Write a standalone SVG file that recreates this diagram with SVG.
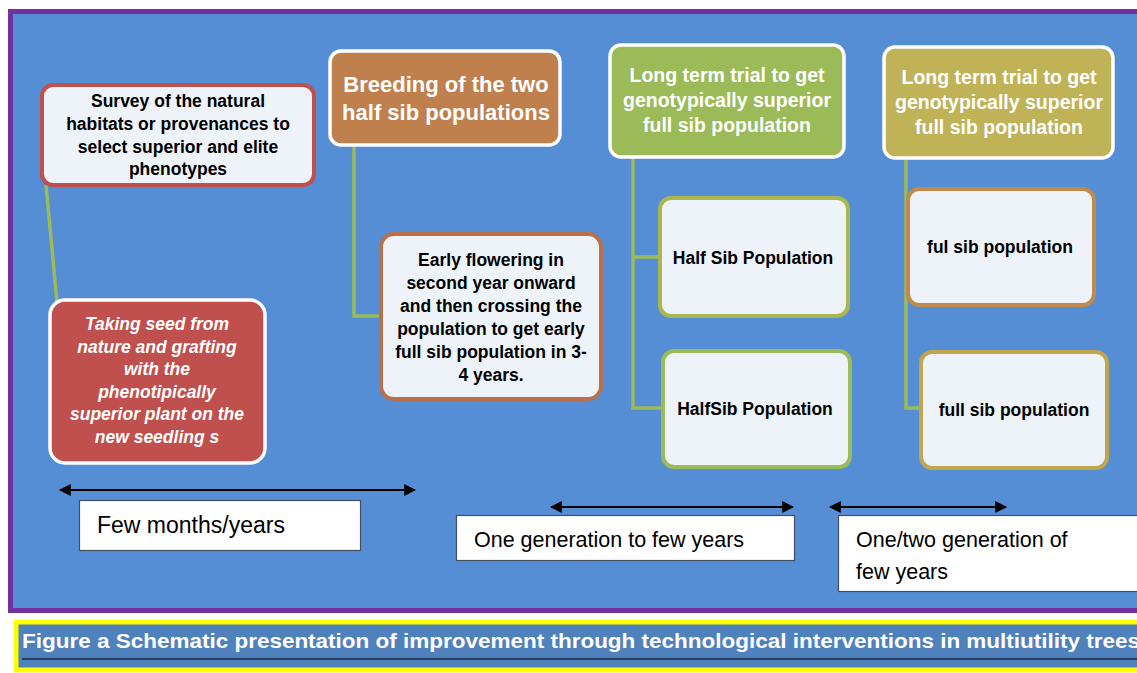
<svg xmlns="http://www.w3.org/2000/svg" width="1137" height="673" viewBox="0 0 1137 673">
<defs>
<marker id="ah" viewBox="0 0 10 10" refX="9" refY="5" markerWidth="6" markerHeight="6" orient="auto-start-reverse" markerUnits="strokeWidth">
<path d="M0,0 L10,5 L0,10 z" fill="#000"/>
</marker>
<style>
.t{font-family:"Liberation Sans",Arial,sans-serif;}
.b{font-weight:bold;}
.dk{fill:#000;}
.wh{fill:#fff;}
.mid{text-anchor:middle;}
.lite{fill:#EEF3FA;stroke-width:4;}
.head{stroke:#fff;stroke-width:3.5;}
.conn{fill:none;stroke:#9BBB59;stroke-width:3.5;}
.arr{stroke:#000;stroke-width:2;marker-start:url(#ah);marker-end:url(#ah);}
.lbl{fill:#fff;stroke:#3F4F5F;stroke-width:1.2;}
</style>
</defs>
<rect width="1137" height="673" fill="#fff"/>
<rect x="10.5" y="11.5" width="1140" height="599" fill="#558ED5" stroke="#7030A0" stroke-width="5"/>

<g id="connectors">
<line class="conn" x1="46" y1="185" x2="72" y2="463"/>
<polyline class="conn" points="354,145 354,316 382,316"/>
<polyline class="conn" points="633,157 633,408 662,408"/>
<line class="conn" x1="633" y1="257" x2="660" y2="257"/>
<polyline class="conn" points="906,158 906,408 921,408"/>
</g>

<g id="survey">
<rect class="lite" x="42" y="85" width="272" height="100" rx="11" stroke="#C0504D"/>
<text class="t b dk mid" font-size="17.5"><tspan x="178" y="107">Survey of the natural</tspan><tspan x="178" y="130">habitats or provenances to</tspan><tspan x="178" y="153">select superior and elite</tspan><tspan x="178" y="175">phenotypes</tspan></text>
</g>

<g id="taking-seed">
<rect class="head" x="50" y="300" width="215" height="163" rx="15" fill="#C0504D"/>
<text class="t b wh mid" font-size="17.5" font-style="italic"><tspan x="157" y="330">Taking seed from</tspan><tspan x="157" y="353">nature and grafting</tspan><tspan x="157" y="375">with  the</tspan><tspan x="157" y="398">phenotipically</tspan><tspan x="157" y="420">superior plant on the</tspan><tspan x="157" y="443">new seedling s</tspan></text>
</g>

<g id="breeding">
<rect class="head" x="330" y="51" width="230" height="94" rx="11" fill="#C0804E"/>
<text class="t b wh mid" font-size="22"><tspan x="446" y="92">Breeding of the two</tspan><tspan x="446" y="120">half sib populations</tspan></text>
</g>

<g id="early-flowering">
<rect class="lite" x="381" y="234" width="220" height="165" rx="13" stroke="#B9714D"/>
<text class="t b dk mid" font-size="17.5"><tspan x="491" y="266">Early flowering in</tspan><tspan x="491" y="289">second year onward</tspan><tspan x="491" y="312">and then crossing the</tspan><tspan x="491" y="335">population to get early</tspan><tspan x="491" y="358">full sib population in 3-</tspan><tspan x="491" y="381">4 years.</tspan></text>
</g>

<g id="trial-green">
<rect class="head" x="610" y="45" width="234" height="112" rx="11" fill="#9BBB59"/>
<text class="t b wh mid" font-size="19.5"><tspan x="727" y="82">Long term trial to get</tspan><tspan x="727" y="107">genotypically superior</tspan><tspan x="727" y="132">full sib population</tspan></text>
</g>

<g id="half-sib-1">
<rect class="lite" x="660" y="198" width="188" height="118" rx="11" stroke="#A9B84E"/>
<text class="t b dk mid" font-size="17.5" x="753" y="264">Half Sib Population</text>
</g>

<g id="half-sib-2">
<rect class="lite" x="663" y="351" width="187" height="116" rx="11" stroke="#9BBB59"/>
<text class="t b dk mid" font-size="17.5" x="755" y="415">HalfSib Population</text>
</g>

<g id="trial-olive">
<rect class="head" x="884" y="47" width="229" height="111" rx="11" fill="#C0B257"/>
<text class="t b wh mid" font-size="19.5"><tspan x="999" y="84">Long term trial to get</tspan><tspan x="999" y="109">genotypically superior</tspan><tspan x="999" y="134">full sib population</tspan></text>
</g>

<g id="ful-sib-1">
<rect class="lite" x="908" y="189" width="186" height="116" rx="11" stroke="#C08A4F"/>
<text class="t b dk mid" font-size="17.5" x="1000" y="253">ful sib population</text>
</g>

<g id="full-sib-2">
<rect class="lite" x="921" y="352" width="186" height="116" rx="11" stroke="#C0A64F"/>
<text class="t b dk mid" font-size="17.5" x="1014" y="416">full sib population</text>
</g>

<g id="timeline-arrows">
<line class="arr" x1="60" y1="490" x2="415" y2="490"/>
<line class="arr" x1="551" y1="507" x2="793" y2="507"/>
<line class="arr" x1="830" y1="507" x2="1006" y2="507"/>
</g>

<g id="time-few-months">
<rect class="lbl" x="79.5" y="500.5" width="281" height="50"/>
<text class="t dk" font-size="23" x="97" y="533">Few months/years</text>
</g>
<g id="time-one-generation">
<rect class="lbl" x="456.5" y="515.5" width="338" height="45"/>
<text class="t dk" font-size="21.5" x="474" y="547">One generation to few years</text>
</g>
<g id="time-one-two">
<rect class="lbl" x="838.5" y="515.5" width="310" height="76"/>
<text class="t dk" font-size="21.5"><tspan x="856" y="547">One/two generation of</tspan><tspan x="856" y="579">few years</tspan></text>
</g>

<g id="caption">
<rect x="16" y="622" width="1130" height="48" fill="#4F81BD" stroke="#FFFF00" stroke-width="5"/>
<line x1="22" y1="659" x2="1137" y2="659" stroke="#000" stroke-width="1.2"/>
<text class="t b wh" font-size="20" x="22" y="648" textLength="1118" lengthAdjust="spacingAndGlyphs">Figure a  Schematic presentation of improvement through technological interventions in multiutility trees</text>
</g>
</svg>
